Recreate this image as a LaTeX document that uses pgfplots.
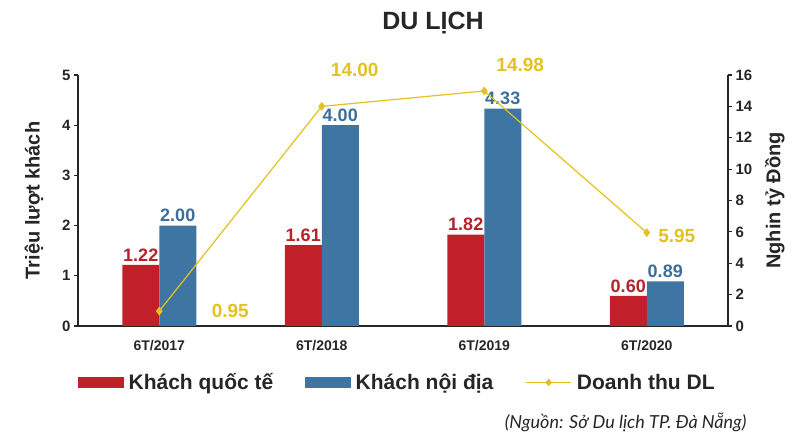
\documentclass[border=0pt]{standalone}
\usepackage{fontspec}
\setmainfont{Liberation Sans}
\newfontfamily\lato{Lato}
\usepackage{pgfplots}
\pgfplotsset{compat=1.18}
\definecolor{redbar}{HTML}{C1202B}
\definecolor{bluebar}{HTML}{3F75A2}
\definecolor{yel}{HTML}{E3C11F}
\definecolor{redlab}{HTML}{B5222B}
\definecolor{bluelab}{HTML}{3B6E9B}
\definecolor{axc}{HTML}{262626}
\newcommand{\fs}[1]{\fontsize{#1}{#1}\selectfont}
\begin{document}
\begin{tikzpicture}
\useasboundingbox (0,0) rectangle (801pt,433pt);
\pgfplotsset{
  common/.style={
    at={(78pt,107pt)}, anchor=south west,
    scale only axis, width=650pt, height=251pt,
    xmin=-0.5, xmax=3.5,
    tick align=outside,
    axis line style={axc, line width=1.3pt},
    every tick/.style={axc, line width=1.1pt},
    major tick length=4pt,
    ticklabel style={font=\bfseries\fs{15}, text=axc},
    /pgf/number format/assume math mode=true,
    clip=false,
  }
}
\begin{axis}[common,
  ymin=0, ymax=5, ytick={0,1,2,3,4,5},
  axis x line*=bottom, axis y line*=left,
  xtick={0,1,2,3}, xticklabels={6T/2017,6T/2018,6T/2019,6T/2020},
  x tick style={draw=none},
  minor xtick={-0.5,0.5,1.5,2.5,3.5},
  minor tick length=5pt,
  minor x tick style={axc, line width=1.1pt},
  xticklabel style={yshift=-7pt, font=\bfseries\fs{14}},
  ylabel={Triệu lượt khách},
  ylabel style={font=\bfseries\fs{20}, text=axc, yshift=12pt},
  ybar, bar width=37pt,
  nodes near coords={\pgfmathprintnumber[fixed,fixed zerofill,precision=2]{\pgfplotspointmeta}},
]
\addplot[fill=redbar, draw=none, bar shift=-18.5pt,
  nodes near coords style={font=\bfseries\fs{18}, text=redlab}]
  coordinates {(0,1.22) (1,1.61) (2,1.82) (3,0.60)};
\addplot[fill=bluebar, draw=none, bar shift=18.5pt,
  nodes near coords style={font=\bfseries\fs{18}, text=bluelab}]
  coordinates {(0,2.00) (1,4.00) (2,4.33) (3,0.89)};
\end{axis}
\begin{axis}[common,
  ymin=0, ymax=16, ytick={0,2,...,16},
  axis x line=none, axis y line*=right,
  ylabel={Nghin tỷ Đồng},
  ylabel style={font=\bfseries\fs{20}, text=axc, yshift=-6pt},
  legend columns=3,
  legend style={at={(axis description cs:0,-0.225)}, anchor=west, draw=none, fill=none,
    font=\bfseries\fs{21}, text=axc, inner sep=0pt,
    /tikz/every odd column/.append style={column sep=3pt},
    /tikz/every even column/.append style={column sep=30pt}},
]
\addlegendimage{legend image code/.code={\fill[redbar] (0pt,-5pt) rectangle (45pt,5pt);}}
\addlegendentry{Khách quốc tế}
\addlegendimage{legend image code/.code={\fill[bluebar] (0pt,-5pt) rectangle (45pt,5pt);}}
\addlegendentry{Khách nội địa}
\addplot[color=yel, line width=1.2pt, mark=diamond*, mark size=3.5pt, mark options={fill=yel},
  legend image code/.code={\draw[yel, line width=1.6pt] (0pt,0pt) -- (45pt,0pt);
    \fill[yel] (22.5pt,0pt) +(0,3pt) -- +(2.5pt,0) -- +(0,-3pt) -- +(-2.5pt,0) -- cycle;}]
  coordinates {(0,0.95) (1,14.00) (2,14.98) (3,5.95)};
\addlegendentry{Doanh thu DL}
\node[font=\bfseries\fs{19}, text=yel] at (axis cs:0,0.95) [xshift=71pt] {0.95};
\node[font=\bfseries\fs{19}, text=yel] at (axis cs:1,14.00) [xshift=33pt, yshift=36pt] {14.00};
\node[font=\bfseries\fs{19}, text=yel] at (axis cs:2,14.98) [xshift=36pt, yshift=26pt] {14.98};
\node[font=\bfseries\fs{19}, text=yel] at (axis cs:3,5.95) [xshift=30pt, yshift=-3pt] {5.95};
\end{axis}
\node[font=\bfseries\fs{25}, text=axc] at (433pt,410pt) {DU LỊCH};
\node[font=\lato\itshape\fs{18}, text=axc, anchor=east] at (750pt,11pt) {(Nguồn: Sở Du lịch TP. Đà Nẵng)};
\end{tikzpicture}
\end{document}
